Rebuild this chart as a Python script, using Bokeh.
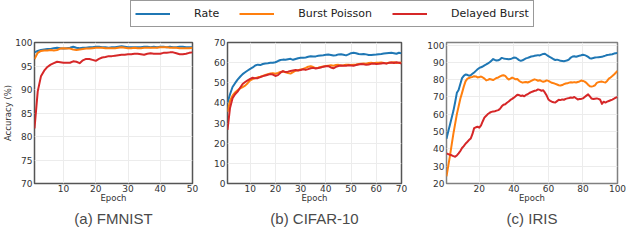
from bokeh.plotting import figure
from bokeh.layouts import column, row
from bokeh.models import Range1d, Legend, LegendItem, Title
from bokeh.embed import file_html
from bokeh.resources import INLINE

# ---------------- data ----------------
series_names = ["Rate", "Burst Poisson", "Delayed Burst"]
colors = ["#1f77b4", "#ff7f0e", "#d62728"]

# (a) FMNIST, epochs 1..50
epochs_a = list(range(1, 51))
rate_a = [97.9, 98.2, 98.4, 98.5, 98.6, 98.6, 98.8, 98.9, 98.8, 98.7,
          98.8, 98.9, 99.1, 98.9, 98.8, 98.9, 98.9, 99.0, 99.0, 99.1,
          99.1, 99.0, 99.0, 98.9, 99.0, 99.0, 99.1, 99.2, 99.1, 99.0,
          99.0, 99.0, 99.0, 99.0, 99.1, 99.1, 99.0, 99.1, 99.0, 99.1,
          99.1, 99.0, 99.1, 99.0, 99.0, 99.1, 99.1, 99.0, 99.0, 99.0]
burst_a = [96.5, 97.8, 98.2, 98.3, 98.3, 98.4, 98.3, 98.4, 98.7, 98.8,
           98.7, 98.7, 98.5, 98.4, 98.5, 98.6, 98.7, 98.7, 98.8, 98.9,
           98.9, 98.9, 98.8, 98.8, 98.8, 98.8, 98.9, 99.0, 98.9, 98.8,
           98.8, 98.9, 98.8, 98.8, 98.9, 98.9, 98.9, 98.9, 98.9, 99.0,
           99.0, 99.0, 98.9, 98.9, 98.9, 98.8, 98.8, 98.8, 98.8, 98.9]
delayed_a = [81.7, 89.6, 92.8, 94.0, 94.8, 95.3, 95.6, 95.9, 95.8, 95.7,
             95.7, 95.7, 96.0, 95.9, 95.6, 96.2, 96.5, 96.5, 96.3, 96.1,
             96.5, 96.8, 96.9, 97.1, 97.1, 97.2, 97.3, 97.4, 97.4, 97.5,
             97.5, 97.6, 97.6, 97.5, 97.4, 97.6, 97.7, 97.6, 97.6, 97.6,
             97.8, 97.8, 97.9, 97.9, 97.7, 97.5, 97.5, 97.6, 97.8, 97.9]

# (b) CIFAR-10, epochs 1..70
epochs_b = list(range(1, 71))
rate_b = [40.0, 44.3, 47.9, 49.8, 51.6, 53.0, 54.3, 55.2, 56.1, 56.9,
          57.6, 58.6, 59.0, 58.8, 59.3, 59.6, 59.7, 59.9, 60.0, 60.2,
          60.8, 61.3, 61.5, 61.4, 61.7, 61.9, 61.4, 61.8, 62.2, 62.4,
          62.4, 62.6, 62.9, 63.2, 63.0, 63.1, 63.4, 63.6, 63.7, 63.9,
          64.0, 63.8, 63.5, 63.7, 64.1, 64.2, 63.9, 63.6, 64.1, 64.7,
          64.9, 64.7, 64.3, 64.2, 64.3, 64.1, 63.8, 63.8, 63.9, 64.0,
          64.2, 64.3, 64.5, 64.7, 64.8, 64.9, 64.7, 64.4, 64.9, 64.6]
burst_b = [35.6, 41.0, 43.6, 45.2, 46.3, 47.2, 47.9, 48.6, 49.8, 51.2,
           51.8, 52.3, 52.7, 53.0, 53.4, 53.9, 54.3, 54.6, 54.8, 54.5,
           54.9, 55.4, 55.6, 55.2, 54.8, 54.6, 55.3, 56.0, 56.2, 56.6,
           56.9, 57.4, 58.0, 58.2, 57.8, 57.3, 57.5, 57.9, 58.1, 58.3,
           58.5, 58.7, 58.5, 58.8, 58.9, 58.6, 58.7, 58.9, 59.0, 58.8,
           59.0, 59.1, 59.3, 59.5, 59.6, 59.5, 59.8, 59.9, 59.7, 59.9,
           60.0, 60.1, 59.8, 59.7, 59.9, 60.1, 60.2, 59.8, 59.9, 60.1]
delayed_b = [26.6, 37.5, 42.3, 44.3, 45.6, 47.5, 49.4, 50.4, 51.2, 51.9,
             52.5, 52.2, 52.3, 52.8, 53.3, 53.6, 54.0, 54.3, 54.1, 53.4,
             53.8, 55.0, 55.8, 55.3, 55.5, 55.9, 56.1, 56.3, 56.1, 56.3,
             56.7, 56.4, 56.8, 57.2, 57.4, 57.1, 57.3, 57.6, 58.0, 58.2,
             58.3, 57.6, 57.2, 57.9, 58.3, 58.6, 58.5, 58.4, 58.7, 58.6,
             58.5, 58.8, 59.1, 59.3, 59.2, 58.9, 59.1, 59.4, 59.6, 59.3,
             59.4, 59.6, 59.8, 59.5, 59.9, 60.1, 59.8, 60.2, 59.9, 59.6]

# (c) IRIS, epochs 1..100
epochs_c = list(range(1, 101))
rate_c = [45.9, 50.0, 54.0, 58.0, 62.0, 67.0, 72.4, 74.0, 77.5, 80.9,
          82.2, 83.0, 82.8, 82.3, 82.6, 83.4, 84.2, 85.1, 86.0, 86.8,
          87.2, 87.6, 88.3, 88.8, 89.4, 90.1, 91.0, 91.9, 91.4, 91.1,
          91.2, 91.8, 92.6, 92.3, 92.1, 92.0, 91.8, 91.9, 92.3, 92.8,
          92.7, 92.1, 91.3, 90.9, 91.2, 91.8, 92.3, 92.6, 93.0, 93.4,
          93.5, 93.8, 94.0, 94.2, 94.0, 94.5, 94.9, 95.0, 94.3, 93.6,
          93.0, 92.5, 91.8, 91.4, 91.6, 91.3, 90.9, 90.8, 90.7, 90.9,
          91.2, 91.8, 92.8, 93.4, 93.5, 93.3, 93.6, 93.9, 94.1, 94.4,
          94.2, 93.8, 93.2, 92.4, 92.2, 92.6, 92.8, 92.9, 93.0, 93.1,
          93.2, 93.6, 93.9, 94.3, 94.4, 94.6, 94.7, 95.1, 95.3, 95.5]
burst_c = [24.2, 30.0, 36.0, 42.5, 48.8, 54.5, 60.1, 64.5, 69.0, 72.4,
           76.0, 79.0, 80.5, 81.0, 81.4, 81.6, 82.0, 81.9, 81.3, 81.5,
           81.8, 81.3, 80.6, 79.6, 79.9, 80.4, 80.1, 79.8, 80.4, 81.0,
           81.3, 81.9, 82.4, 82.6, 82.2, 81.0, 80.1, 80.6, 81.2, 80.8,
           80.2, 80.4, 79.4, 78.7, 78.3, 78.5, 78.7, 78.4, 78.8, 79.3,
           79.8, 80.2, 79.9, 79.4, 79.7, 79.2, 78.8, 79.1, 79.6, 79.3,
           78.7, 78.2, 78.0, 77.6, 77.2, 76.8, 76.6, 76.9, 77.4, 77.8,
           77.9, 78.3, 78.5, 78.4, 78.6, 78.4, 78.7, 79.0, 79.5, 79.3,
           78.9, 78.2, 77.1, 76.2, 76.0, 76.3, 76.8, 78.2, 78.6, 78.8,
           78.9, 78.6, 78.4, 79.3, 80.6, 81.3, 82.1, 83.0, 84.0, 85.1]
delayed_c = [37.4, 37.0, 36.6, 36.3, 35.8, 35.5, 36.2, 37.4, 38.8, 40.5,
             41.6, 43.0, 44.0, 45.1, 46.0, 48.5, 52.0, 52.5, 52.8, 52.3,
             53.6, 56.0, 58.2, 59.1, 60.2, 60.9, 61.4, 61.6, 61.8, 62.1,
             62.4, 63.2, 64.6, 65.5, 65.8, 66.7, 67.4, 68.3, 68.9, 69.6,
             70.4, 71.3, 71.1, 70.6, 70.9, 70.4, 71.2, 71.6, 72.3, 72.8,
             73.2, 73.6, 73.8, 74.4, 74.1, 73.6, 73.9, 72.5, 70.8, 68.6,
             67.8, 67.3, 67.0, 66.8, 67.6, 68.4, 68.2, 68.6, 68.4, 68.9,
             69.2, 69.4, 69.7, 69.5, 70.0, 69.3, 68.6, 68.8, 68.9, 69.2,
             70.0, 70.8, 71.5, 70.3, 69.1, 68.8, 69.0, 69.2, 68.9, 68.4,
             66.0, 67.3, 66.8, 67.3, 67.7, 68.1, 68.5, 69.0, 69.6, 70.0]

xticks_a = [10, 20, 30, 40, 50]
yticks_a = [70, 75, 80, 85, 90, 95, 100]
xticks_b = [10, 20, 30, 40, 50, 60, 70]
yticks_b = [0, 10, 20, 30, 40, 50, 60, 70]
xticks_c = [20, 40, 60, 80, 100]
yticks_c = [20, 30, 40, 50, 60, 70, 80, 90, 100]
captions = ["(a) FMNIST", "(b) CIFAR-10", "(c) IRIS"]

TICK_FONT = "DejaVu Sans"


def make_panel(x, ys, xr, yr, xt, yt, caption, width, bl, br, bt=12,
               ylabel=None, outline="#555555"):
    p = figure(width=width, height=215, x_range=Range1d(*xr), y_range=Range1d(*yr),
               output_backend="svg", toolbar_location=None,
               min_border_left=bl, min_border_right=br,
               min_border_top=bt, min_border_bottom=62)
    for y, c in zip(ys, colors):
        p.line(x, y, line_color=c, line_width=2.0, line_join="round")
    p.xaxis.ticker = xt
    p.yaxis.ticker = yt
    for ax in (p.xaxis, p.yaxis):
        ax.axis_line_color = None
        ax.major_tick_line_color = None
        ax.minor_tick_line_color = None
        ax.major_tick_out = 0
        ax.major_tick_in = 0
        ax.minor_tick_out = 0
        ax.minor_tick_in = 0
        ax.major_label_text_font = TICK_FONT
        ax.major_label_text_font_size = "9px"
        ax.major_label_text_color = "#333333"
        ax.axis_label_text_font = TICK_FONT
        ax.axis_label_text_font_size = "8.5px"
        ax.axis_label_text_font_style = "normal"
        ax.axis_label_text_color = "#333333"
    p.xaxis.major_label_standoff = 1
    p.yaxis.major_label_standoff = 2
    p.xaxis.axis_label_standoff = -2
    p.yaxis.axis_label_standoff = -1
    p.xaxis.axis_label = "Epoch"
    if ylabel:
        p.yaxis.axis_label = ylabel
    p.grid.grid_line_color = "#ececec"
    p.grid.grid_line_width = 1
    p.outline_line_color = outline
    p.outline_line_width = 1.5
    p.add_layout(Title(text=caption, align="center", text_font="Liberation Sans",
                       text_font_size="15px", text_font_style="normal",
                       text_color="#4a4a4a", standoff=4), "below")
    return p


pa = make_panel(epochs_a, [rate_a, burst_a, delayed_a], (1, 50), (70, 100),
                xticks_a, yticks_a, captions[0], 208, 28, 16, ylabel="Accuracy (%)")
pb = make_panel(epochs_b, [rate_b, burst_b, delayed_b], (1, 70), (0, 70),
                xticks_b, yticks_b, captions[1], 216, 19, 23)
pc = make_panel(epochs_c, [rate_c, burst_c, delayed_c], (1, 100), (20, 101.5),
                xticks_c, yticks_c, captions[2], 216, 21, 23, bt=10,
                outline="#808080")

# legend strip
pl = figure(width=640, height=30, x_range=Range1d(0, 1), y_range=Range1d(0, 1),
            output_backend="svg", toolbar_location=None,
            x_axis_location=None, y_axis_location=None, min_border=0)
pl.grid.visible = False
pl.outline_line_color = None
items = []
for name, c in zip(series_names, colors):
    r = pl.line([5, 6], [5, 6], line_color=c, line_width=2.2)
    items.append(LegendItem(label=name, renderers=[r]))
leg = Legend(items=items, orientation="horizontal", location=(130, 3),
             glyph_width=35, glyph_height=17, label_height=17,
             label_standoff=24, spacing=20, padding=4, margin=0,
             label_text_font=TICK_FONT, label_text_font_size="11px",
             label_text_color="#222222",
             border_line_color="#333333", border_line_width=1,
             background_fill_alpha=1)
pl.add_layout(leg, "center")

layout = column(pl, row(pa, pb, pc))

open("out.html", "w").write(file_html(layout, INLINE))
